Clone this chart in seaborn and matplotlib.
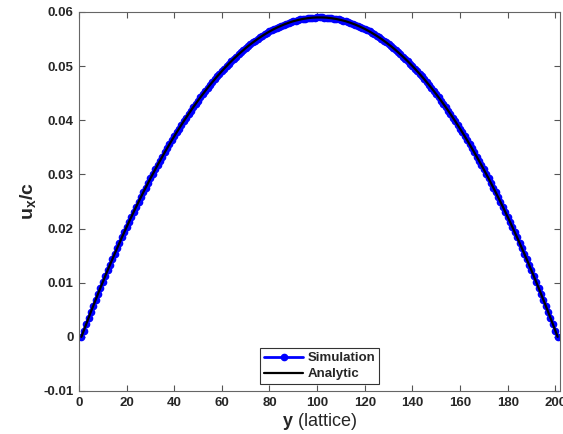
# Poiseuille flow profile: simulation vs analytic
import seaborn as sns
import matplotlib.pyplot as plt
import pandas as pd

# lattice nodes across the channel
y_lattice = list(range(1, 202))

# velocity profile u_x/c (same values for both curves)
ux_sim = [
    0.0, 0.00117, 0.00234, 0.00349, 0.00463, 0.00575, 0.00687, 0.00797, 0.00906, 0.01014,
    0.01121, 0.01227, 0.01331, 0.01434, 0.01536, 0.01637, 0.01737, 0.01835, 0.01933, 0.02029,
    0.02124, 0.02218, 0.02310, 0.02402, 0.02492, 0.02581, 0.02669, 0.02756, 0.02841, 0.02926,
    0.03009, 0.03091, 0.03172, 0.03251, 0.03330, 0.03407, 0.03483, 0.03558, 0.03632, 0.03705,
    0.03776, 0.03846, 0.03915, 0.03983, 0.04050, 0.04115, 0.04180, 0.04243, 0.04305, 0.04365,
    0.04425, 0.04483, 0.04541, 0.04597, 0.04652, 0.04705, 0.04758, 0.04809, 0.04859, 0.04908,
    0.04956, 0.05003, 0.05048, 0.05092, 0.05135, 0.05177, 0.05218, 0.05257, 0.05296, 0.05333,
    0.05369, 0.05404, 0.05437, 0.05470, 0.05501, 0.05531, 0.05560, 0.05588, 0.05614, 0.05640,
    0.05664, 0.05687, 0.05709, 0.05729, 0.05749, 0.05767, 0.05784, 0.05800, 0.05815, 0.05829,
    0.05841, 0.05852, 0.05862, 0.05871, 0.05879, 0.05885, 0.05891, 0.05895, 0.05898, 0.05899,
    0.05900,
    0.05899, 0.05898, 0.05895, 0.05891, 0.05885, 0.05879, 0.05871, 0.05862, 0.05852, 0.05841,
    0.05829, 0.05815, 0.05800, 0.05784, 0.05767, 0.05749, 0.05729, 0.05709, 0.05687, 0.05664,
    0.05640, 0.05614, 0.05588, 0.05560, 0.05531, 0.05501, 0.05470, 0.05437, 0.05404, 0.05369,
    0.05333, 0.05296, 0.05257, 0.05218, 0.05177, 0.05135, 0.05092, 0.05048, 0.05003, 0.04956,
    0.04908, 0.04859, 0.04809, 0.04758, 0.04705, 0.04652, 0.04597, 0.04541, 0.04483, 0.04425,
    0.04365, 0.04305, 0.04243, 0.04180, 0.04115, 0.04050, 0.03983, 0.03915, 0.03846, 0.03776,
    0.03705, 0.03632, 0.03558, 0.03483, 0.03407, 0.03330, 0.03251, 0.03172, 0.03091, 0.03009,
    0.02926, 0.02841, 0.02756, 0.02669, 0.02581, 0.02492, 0.02402, 0.02310, 0.02218, 0.02124,
    0.02029, 0.01933, 0.01835, 0.01737, 0.01637, 0.01536, 0.01434, 0.01331, 0.01227, 0.01121,
    0.01014, 0.00906, 0.00797, 0.00687, 0.00575, 0.00463, 0.00349, 0.00234, 0.00117, 0.0,
]
ux_analytic = ux_sim

x_ticks = [0, 20, 40, 60, 80, 100, 120, 140, 160, 180, 200]
y_ticks = [-0.01, 0, 0.01, 0.02, 0.03, 0.04, 0.05, 0.06]
y_tick_labels = ['-0.01', '0', '0.01', '0.02', '0.03', '0.04', '0.05', '0.06']

df = pd.DataFrame({'y': y_lattice, 'sim': ux_sim, 'analytic': ux_analytic})

sns.set_style('ticks')
plt.rcParams['font.family'] = ['Liberation Sans', 'DejaVu Sans']
plt.rcParams['mathtext.fontset'] = 'custom'
plt.rcParams['mathtext.rm'] = 'Liberation Sans'
plt.rcParams['mathtext.it'] = 'Liberation Sans:italic'
plt.rcParams['mathtext.bf'] = 'Liberation Sans:bold'

fig = plt.figure(figsize=(5.63, 4.34), dpi=100)
ax = fig.add_axes([0.1403, 0.0991, 0.8544, 0.8733])

sns.lineplot(data=df, x='y', y='sim', ax=ax, color='blue', linewidth=2,
             marker='o', markersize=4.5, markeredgewidth=1.0, markerfacecolor='blue',
             markeredgecolor='blue', label='Simulation')
sns.lineplot(data=df, x='y', y='analytic', ax=ax, color='black', linewidth=1.6,
             label='Analytic')

ax.set_xlim(0, 202)
ax.set_ylim(-0.01, 0.06)
ax.set_xticks(x_ticks)
ax.set_yticks(y_ticks)
ax.set_yticklabels(y_tick_labels)
ax.tick_params(direction='in', length=4, width=0.8, color='#555555',
               top=True, right=True, labelsize=9.5, pad=4)
for lab in ax.get_xticklabels() + ax.get_yticklabels():
    lab.set_fontweight('bold')
for sp in ax.spines.values():
    sp.set_visible(True)
    sp.set_color('#666666')
    sp.set_linewidth(0.8)

ax.set_xlabel(r'$\mathbf{y}$ (lattice)', fontsize=13, labelpad=2)
ax.set_ylabel(r'$\mathbf{u}_\mathbf{x}\mathbf{/c}$', fontsize=14, labelpad=4)

leg = ax.legend(loc='lower center', frameon=True, fancybox=False,
                prop={'weight': 'bold', 'size': 9.5}, borderpad=0.3,
                handlelength=3, handletextpad=0.3, labelspacing=0.3,
                borderaxespad=0.5)
leg.get_frame().set_edgecolor('black')
leg.get_frame().set_linewidth(0.8)

plt.savefig('out.png', dpi=100)
